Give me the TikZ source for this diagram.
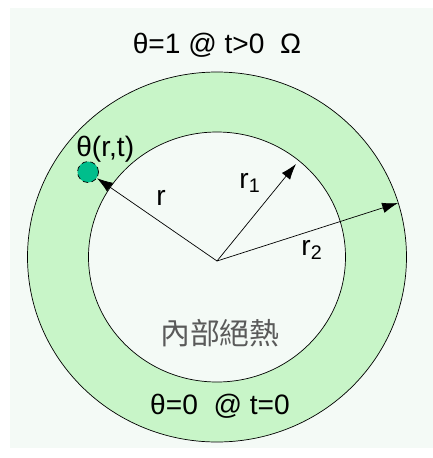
\documentclass[tikz,border=0pt]{standalone}
\usepackage{fontspec}
\setmainfont{Liberation Sans}
\newfontfamily\cjkfont{Noto Sans CJK TC}
\usepackage{xcolor}
\usepackage{tikz}
\usetikzlibrary{arrows.meta,positioning,calc}
\definecolor{panelbg}{RGB}{244,250,246}
\definecolor{ringgreen}{RGB}{200,245,200}
\definecolor{dotteal}{RGB}{0,190,140}
\definecolor{notegray}{RGB}{90,90,90}

\begin{document}
\begin{tikzpicture}[
    x=0.02cm, y=-0.02cm,
    lbl/.style={font=\fontsize{16}{19}\selectfont, inner sep=1pt},
    radius/.style={draw, thin, -{Latex[length=9pt,width=6pt]}},
    >=Stealth
]
\useasboundingbox (0,0) rectangle (433,458);
\fill[panelbg] (10,8) rectangle (433,448);
% ring
\fill[ringgreen, even odd rule] (217,257) ellipse [x radius=189.5, y radius=185]
                                 (217,257) ellipse [x radius=128.5, y radius=125];
\draw[thin] (217,257) ellipse [x radius=189.5, y radius=185];
\draw[thin] (217,257) ellipse [x radius=128.5, y radius=125];

\coordinate (o) at (217,261);
\coordinate (r1end) at (296,164);
\coordinate (r2end) at (398,203);
\node[circle, draw, densely dashed, fill=dotteal, minimum size=21*0.02cm, inner sep=0pt] (pt) at (88,172) {};

\draw[radius] (o) -- (pt);
\draw[radius] (o) -- (r1end);
\draw[radius] (o) -- (r2end);

\node[lbl] (top) at (217,45) {θ=1 @ t>0 \ Ω};
\node[lbl, anchor=south west, inner sep=0pt] (thetart) at (76,163) {θ(r,t)};
\node[lbl] (rlab) at (161,198) {r};
\node[lbl] (r1lab) at (250,183) {r\textsubscript{1}};
\node[lbl] (r2lab) at (312,250) {r\textsubscript{2}};
\node[font=\cjkfont\fontsize{17}{19}\selectfont, text=notegray] (insul) at (220,333) {內部絕熱};
\node[lbl] (bottom) at (220,406) {θ=0 \ @ t=0};
\end{tikzpicture}
\end{document}
